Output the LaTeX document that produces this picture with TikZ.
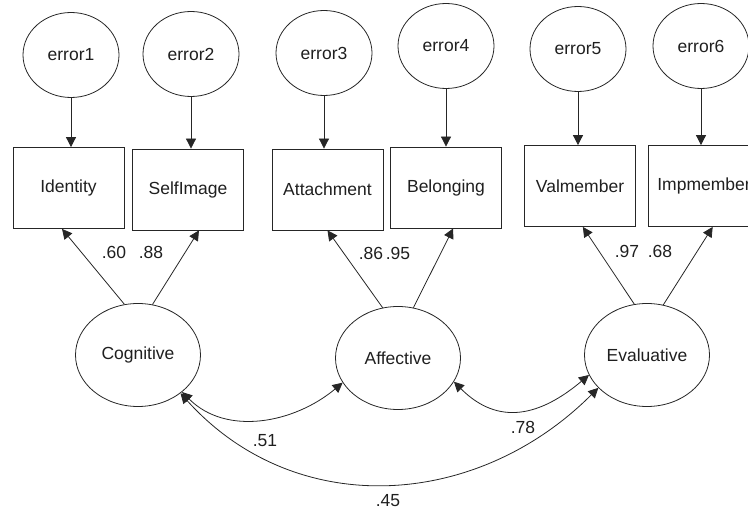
\documentclass[tikz,border=0pt]{standalone}
\usepackage{fontspec}
\setmainfont{Liberation Sans}
\usetikzlibrary{arrows.meta,shapes.geometric}

\begin{document}
\begin{tikzpicture}[x=1pt,y=-1pt,
  every node/.style={font=\fontsize{17.5}{20}\selectfont, text=black!88},
  lat/.style={draw=black!85, line width=0.8pt, ellipse, inner sep=0pt, minimum width=125pt, minimum height=103pt},
  err/.style={draw=black!85, line width=0.8pt, ellipse, inner sep=0pt, minimum width=96pt, minimum height=85pt},
  obs/.style={draw=black!85, line width=0.8pt, rectangle, inner sep=0pt, minimum width=111pt, minimum height=81pt},
  tipshape/.tip={Triangle[length=10pt,width=10pt]},
  load/.style={draw=black!85, line width=0.8pt, -tipshape},
  cov/.style={draw=black!85, line width=0.8pt, tipshape-tipshape},
  coef/.style={inner sep=0pt}
]
\useasboundingbox (0,0) rectangle (748,510);

% error terms
\node[err] (e1) at (71,55)  {error1};
\node[err] (e2) at (191,54) {error2};
\node[err] (e3) at (324,53) {error3};
\node[err] (e4) at (446,46) {error4};
\node[err] (e5) at (578,49) {error5};
\node[err] (e6) at (701,46) {error6};

% observed indicators
\node[obs] (idn) at (68.5,188)  {Identity};
\node[obs] (sim) at (188,189.5) {SelfImage};
\node[obs] (att) at (327.5,189.5) {Attachment};
\node[obs] (bel) at (446,187.5) {Belonging};
\node[obs] (val) at (580,186)   {Valmember};
\node[obs] (imp) at (704,186)   {Impmember};

% latent factors
\node[lat] (cog) at (138,355) {Cognitive};
\node[lat] (aff) at (398,358) {Affective};
\node[lat] (eva) at (647,355) {Evaluative};

% error paths
\foreach \e/\o in {e1/idn,e2/sim,e3/att,e4/bel,e5/val,e6/imp}
  \draw[load] (\e.south) -- (\e.south |- \o.north);

% factor loadings
\draw[load] (cog.105) -- (idn.261.5);
\draw[load] (cog.74)  -- (sim.285);
\draw[load] (aff.107) -- (att.270);
\draw[load] (aff.73)  -- (bel.280);
\draw[load] (eva.104) -- (val.274);
\draw[load] (eva.72)  -- (imp.282);

\node[coef] (l1) at (114,252) {.60};
\node[coef] (l2) at (151,252) {.88};
\node[coef] (l3) at (371,253) {.86};
\node[coef] (l4) at (398,253) {.95};
\node[coef] (l5) at (627,251) {.97};
\node[coef] (l6) at (660,251) {.68};

% factor covariances
\draw[cov] (cog.320) to[out=-45,in=-140] (aff.204);
\draw[cov] (aff.337) to[out=-45,in=-140,looseness=1.2] (eva.199);
\draw[cov] (cog.318) to[out=-48,in=-135,looseness=1.05] (eva.214);

\node[coef] (c1) at (265,441) {.51};
\node[coef] (c2) at (523,427) {.78};
\node[coef] (c3) at (388,501) {.45};
\end{tikzpicture}
\end{document}
